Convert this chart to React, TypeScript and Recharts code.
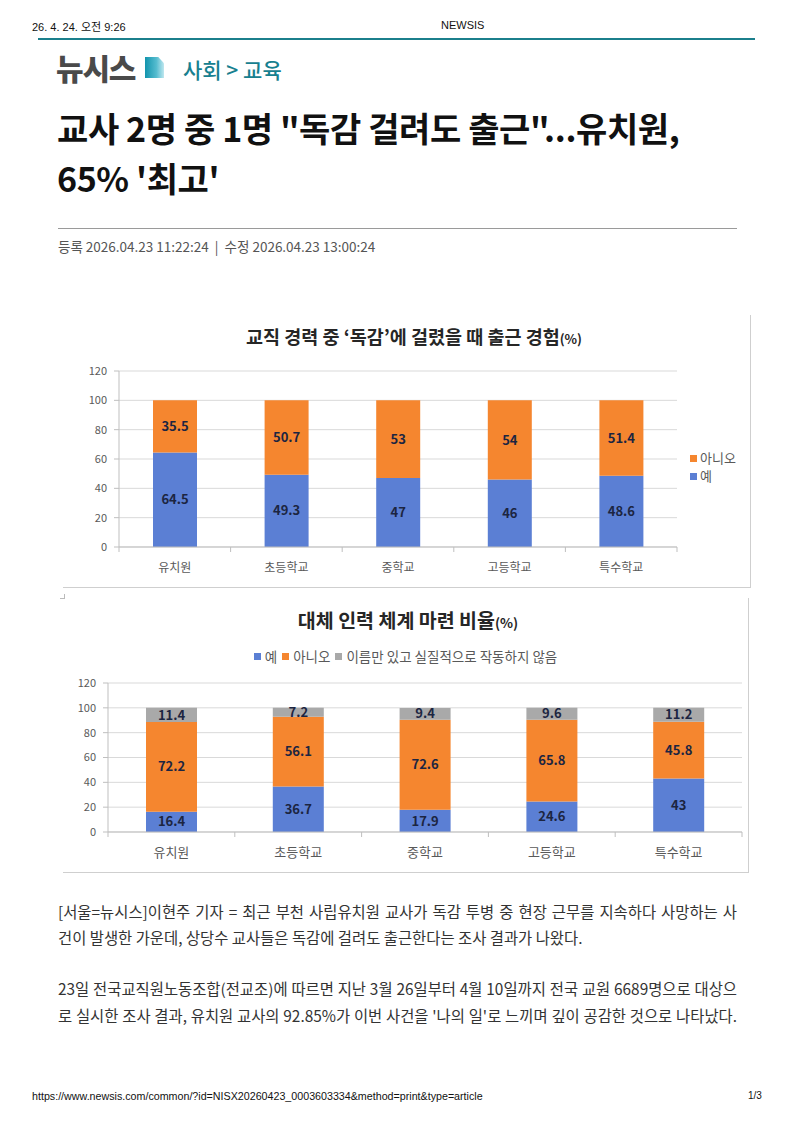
import React from 'react';
import { BarChart, Bar, XAxis, YAxis, CartesianGrid, LabelList, Legend } from 'recharts';

const categories = ['유치원', '초등학교', '중학교', '고등학교', '특수학교'];
const fluYes = [64.5, 49.3, 47, 46, 48.6];
const fluNo = [35.5, 50.7, 53, 54, 51.4];
const subYes = [16.4, 36.7, 17.9, 24.6, 43];
const subNo = [72.2, 56.1, 72.6, 65.8, 45.8];
const subNominal = [11.4, 7.2, 9.4, 9.6, 11.2];
const yTicks = [0, 20, 40, 60, 80, 100, 120];

const chart1Title = '교직 경력 중 ‘독감’에 걸렸을 때 출근 경험';
const chart2Title = '대체 인력 체계 마련 비율';
const legend1Order = ['아니오', '예'];
const legend2Order = ['예', '아니오', '이름만 있고 실질적으로 작동하지 않음'];

const fluData = categories.map((c, i) => ({ name: c, yes: fluYes[i], no: fluNo[i] }));
const subData = categories.map((c, i) => ({ name: c, yes: subYes[i], no: subNo[i], nominal: subNominal[i] }));

const BLUE = '#5b7fd4';
const ORANGE = '#f5862f';
const GRAY = '#a9a9a9';
const AXIS = '#bfbfbf';
const GRID = '#d9d9d9';
const TICK = '#595959';
const LABEL = '#1c2541';
const FONT = '"Noto Sans CJK KR", "Noto Sans", sans-serif';

const makeCatTick = (fallbackHalf: number, count: number, textDy: number, fontSize: number) => (props: any) => {
  const { x, y, payload, index } = props;
  const half = payload && typeof payload.offset === 'number' && payload.offset > 0 ? payload.offset : fallbackHalf;
  const axisY = y - 2;
  return (
    <g>
      <line x1={x - half} x2={x - half} y1={axisY} y2={axisY + 5} stroke={AXIS} />
      {index === count - 1 ? <line x1={x + half} x2={x + half} y1={axisY} y2={axisY + 5} stroke={AXIS} /> : null}
      <text x={x} y={axisY + textDy} textAnchor="middle" fontSize={fontSize} fill={TICK} fontFamily={FONT}>
        {payload.value}
      </text>
    </g>
  );
};

const sortBy = (payload: any[], order: string[]) =>
  [...(payload || [])].sort((a, b) => order.indexOf(a.value) - order.indexOf(b.value));

const Legend1 = (props: any) => {
  const items = sortBy(props.payload, legend1Order);
  return (
    <div style={{ fontFamily: FONT, fontSize: 13, color: TICK, lineHeight: '18px' }}>
      {items.map((it: any) => (
        <div key={it.value} style={{ display: 'flex', alignItems: 'center' }}>
          <span style={{ width: 7, height: 7, background: it.color, display: 'inline-block', marginRight: 3 }} />
          <span>{it.value}</span>
        </div>
      ))}
    </div>
  );
};

const Legend2 = (props: any) => {
  const items = sortBy(props.payload, legend2Order);
  return (
    <div style={{ fontFamily: FONT, fontSize: 13.5, color: TICK, display: 'flex', justifyContent: 'center', alignItems: 'center' }}>
      {items.map((it: any) => (
        <span key={it.value} style={{ display: 'inline-flex', alignItems: 'center', marginRight: 5 }}>
          <span style={{ width: 7, height: 7, background: it.color, display: 'inline-block', marginRight: 4 }} />
          <span>{it.value}</span>
        </span>
      ))}
    </div>
  );
};

const abs = (left: number, top: number, extra: React.CSSProperties = {}): React.CSSProperties => ({
  position: 'absolute',
  left,
  top,
  whiteSpace: 'nowrap',
  lineHeight: 1,
  ...extra,
});

const labelStyle = { fontFamily: FONT, fontSize: 13, fontWeight: 700, fill: LABEL };
const bodyStyle: React.CSSProperties = { fontSize: 15.4, color: '#333' };
const bodyFull: React.CSSProperties = { ...bodyStyle, width: 679, textAlign: 'justify', textAlignLast: 'justify' };

export default function App() {
  return (
    <div style={{ position: 'absolute', left: 0, top: 0, width: 793, height: 1122, background: '#fff', fontFamily: FONT, overflow: 'hidden' }}>
      {/* print header */}
      <div style={abs(32, 22, { fontFamily: '"Liberation Sans", "Noto Sans CJK KR", sans-serif', fontSize: 11, color: '#111' })}>26. 4. 24. 오전 9:26</div>
      <div style={abs(441, 20, { fontFamily: '"Liberation Sans", sans-serif', fontSize: 11, color: '#111' })}>NEWSIS</div>
      <div style={{ position: 'absolute', left: 38, top: 38, width: 717, height: 2, background: '#1b7f8c' }} />

      {/* logo + section */}
      <div style={abs(56, 52, { fontSize: 30, fontWeight: 900, color: '#4a4a4a', letterSpacing: -1.2 })}>뉴시스</div>
      <div style={{ position: 'absolute', left: 145, top: 57, width: 19, height: 21, background: 'linear-gradient(90deg, #1294ad 0%, #55bccf 60%, #bfe7ef 100%)', clipPath: 'polygon(0 0, 70% 0, 100% 30%, 100% 100%, 0 100%)' }} />
      <div style={abs(183, 59, { fontSize: 21, fontWeight: 500, color: '#17808f' })}>사회 &gt; 교육</div>

      {/* headline */}
      <div style={abs(57, 111, { fontSize: 34, fontWeight: 700, color: '#111', letterSpacing: -0.4 })}>교사 2명 중 1명 "독감 걸려도 출근"...유치원,</div>
      <div style={abs(57, 161, { fontSize: 34, fontWeight: 700, color: '#111', letterSpacing: -0.4 })}>65% '최고'</div>
      <div style={{ position: 'absolute', left: 58, top: 228, width: 679, height: 1, background: '#9a9a9a' }} />
      <div style={abs(58, 240, { fontSize: 13.5, color: '#555' })}>등록 2026.04.23 11:22:24 &nbsp;|&nbsp; 수정 2026.04.23 13:00:24</div>

      {/* chart 1 */}
      <div style={{ position: 'absolute', left: 63, top: 315, width: 687, height: 272, borderRight: '1px solid #cfcfcf', borderBottom: '1px solid #cfcfcf' }}>
        <div style={{ position: 'absolute', left: 0, width: 702, top: 12, textAlign: 'center', fontSize: 18.5, fontWeight: 700, color: '#262626', lineHeight: 1 }}>
          {chart1Title}<span style={{ fontSize: 13 }}>(%)</span>
        </div>
        <BarChart width={687} height={272} data={fluData} margin={{ top: 56, right: 73, bottom: 10, left: 16 }}>
          <CartesianGrid vertical={false} stroke={GRID} />
          <XAxis dataKey="name" height={30} tickSize={0} tickMargin={2} tickLine={false} axisLine={{ stroke: AXIS }} interval={0}
            tick={makeCatTick(55.8, categories.length, 25, 12)} />
          <YAxis width={40} domain={[0, 120]} ticks={yTicks} interval={0} tickSize={5} tickMargin={7}
            axisLine={{ stroke: AXIS }} tickLine={{ stroke: AXIS }} tick={{ fontSize: 11, fill: TICK, fontFamily: FONT }} />
          <Legend layout="horizontal" verticalAlign="middle" align="center" content={<Legend1 />}
            wrapperStyle={{ left: 627, top: 134, width: 60 }} />
          <Bar dataKey="yes" name="예" stackId="a" fill={BLUE} barSize={44} isAnimationActive={false}>
            <LabelList dataKey="yes" position="center" style={labelStyle} />
          </Bar>
          <Bar dataKey="no" name="아니오" stackId="a" fill={ORANGE} barSize={44} isAnimationActive={false}>
            <LabelList dataKey="no" position="center" style={labelStyle} />
          </Bar>
        </BarChart>
      </div>
      <div style={{ position: 'absolute', left: 60, top: 594, width: 4, height: 4, borderRight: '1px solid #bbb', borderBottom: '1px solid #bbb' }} />

      {/* chart 2 */}
      <div style={{ position: 'absolute', left: 63, top: 598, width: 685, height: 274, borderRight: '1px solid #cfcfcf', borderBottom: '1px solid #cfcfcf' }}>
        <div style={{ position: 'absolute', left: 0, width: 690, top: 12, textAlign: 'center', fontSize: 19.5, fontWeight: 700, color: '#262626', lineHeight: 1 }}>
          {chart2Title}<span style={{ fontSize: 13.5 }}>(%)</span>
        </div>
        <BarChart width={685} height={274} data={subData} margin={{ top: 85, right: 6, bottom: 10, left: 5 }}>
          <CartesianGrid vertical={false} stroke={GRID} />
          <XAxis dataKey="name" height={30} tickSize={0} tickMargin={2} tickLine={false} axisLine={{ stroke: AXIS }} interval={0}
            tick={makeCatTick(63.3, categories.length, 25, 13)} />
          <YAxis width={40} domain={[0, 120]} ticks={yTicks} interval={0} tickSize={5} tickMargin={7}
            axisLine={{ stroke: AXIS }} tickLine={{ stroke: AXIS }} tick={{ fontSize: 11, fill: TICK, fontFamily: FONT }} />
          <Legend layout="horizontal" verticalAlign="middle" align="center" content={<Legend2 />}
            wrapperStyle={{ left: 0, top: 48, width: 690 }} />
          <Bar dataKey="yes" name="예" stackId="a" fill={BLUE} barSize={51} isAnimationActive={false}>
            <LabelList dataKey="yes" position="center" style={labelStyle} />
          </Bar>
          <Bar dataKey="no" name="아니오" stackId="a" fill={ORANGE} barSize={51} isAnimationActive={false}>
            <LabelList dataKey="no" position="center" style={labelStyle} />
          </Bar>
          <Bar dataKey="nominal" name="이름만 있고 실질적으로 작동하지 않음" stackId="a" fill={GRAY} barSize={51} isAnimationActive={false}>
            <LabelList dataKey="nominal" position="center" style={labelStyle} />
          </Bar>
        </BarChart>
      </div>

      {/* body */}
      <div style={abs(58, 904, bodyFull)}>[서울=뉴시스]이현주 기자 = 최근 부천 사립유치원 교사가 독감 투병 중 현장 근무를 지속하다 사망하는 사</div>
      <div style={abs(58, 930, bodyStyle)}>건이 발생한 가운데, 상당수 교사들은 독감에 걸려도 출근한다는 조사 결과가 나왔다.</div>
      <div style={abs(58, 981, bodyFull)}>23일 전국교직원노동조합(전교조)에 따르면 지난 3월 26일부터 4월 10일까지 전국 교원 6689명으로 대상으</div>
      <div style={abs(58, 1008, bodyFull)}>로 실시한 조사 결과, 유치원 교사의 92.85%가 이번 사건을 '나의 일'로 느끼며 깊이 공감한 것으로 나타났다.</div>

      {/* footer */}
      <div style={abs(32, 1091, { fontFamily: '"Liberation Sans", sans-serif', fontSize: 10.7, color: '#111' })}>https://www.newsis.com/common/?id=NISX20260423_0003603334&amp;method=print&amp;type=article</div>
      <div style={abs(748, 1091, { fontFamily: '"Liberation Sans", sans-serif', fontSize: 10, color: '#111' })}>1/3</div>
    </div>
  );
}
